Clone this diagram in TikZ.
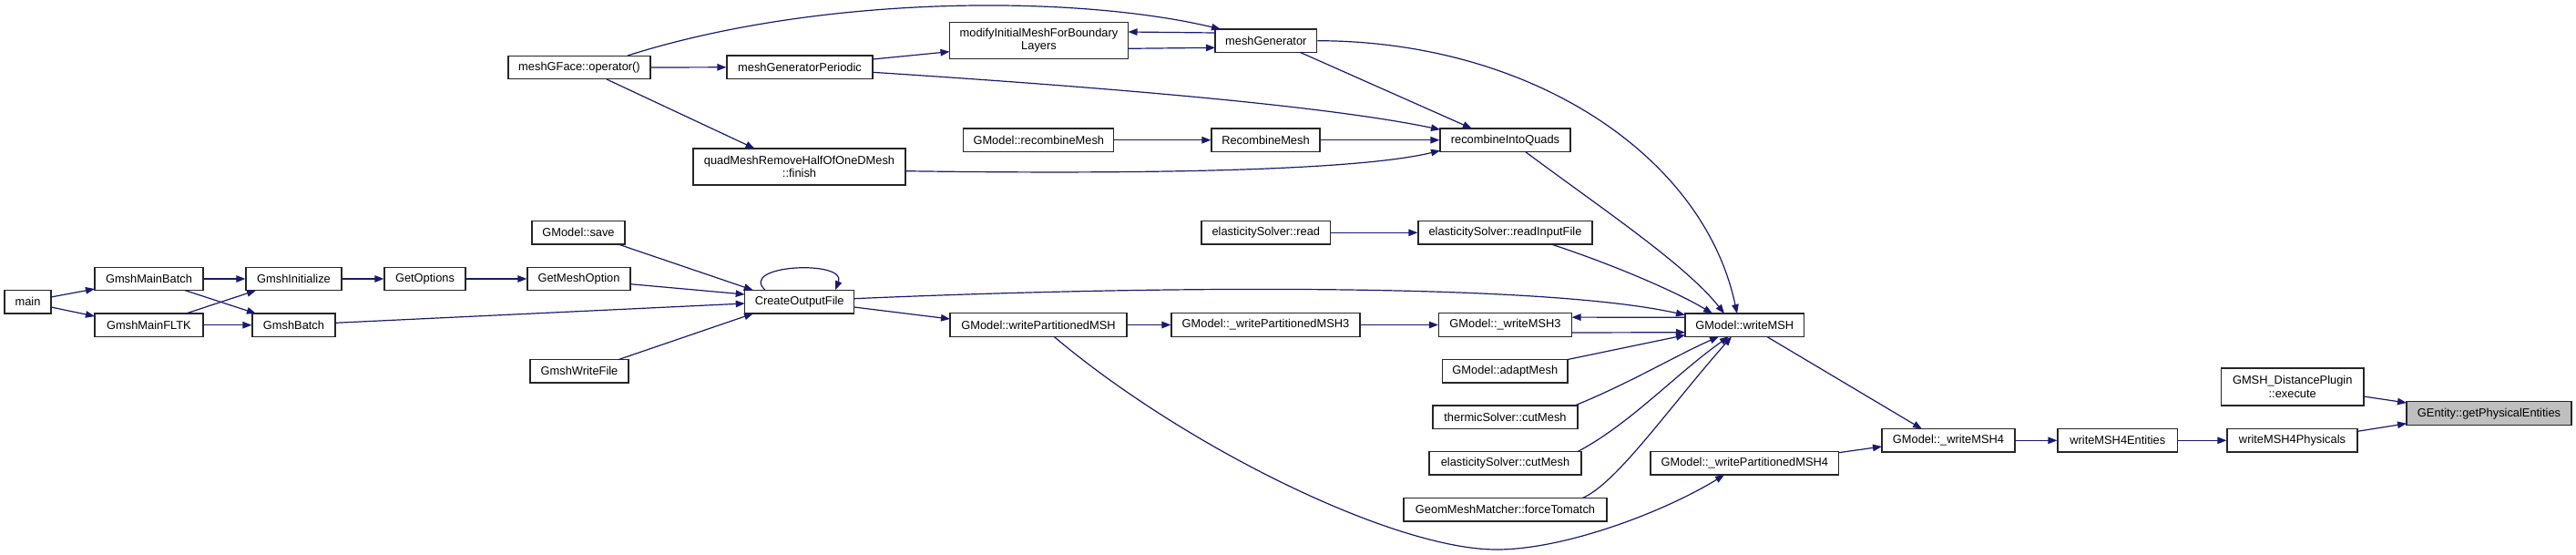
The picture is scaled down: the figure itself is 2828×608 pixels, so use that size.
\documentclass[tikz,border=0pt]{standalone}
\usepackage{fontspec}
\setmainfont{Liberation Sans}
\usetikzlibrary{arrows.meta}
\definecolor{edgeblue}{HTML}{191970}
\definecolor{hlgrey}{HTML}{BFBFBF}
\begin{document}
\begin{tikzpicture}[x=1pt,y=-1pt,
  box/.style={draw=black!85, line width=1.2pt, fill=white, inner sep=0pt,
    minimum height=25.5pt, align=center, font=\fontsize{12.85}{14.5}\selectfont},
  tall/.style={box, minimum height=40pt},
  hl/.style={box, fill=hlgrey},
  edge/.style={draw=edgeblue, line width=1.2pt, -{Triangle[length=10pt,width=7.5pt]}}]
\useasboundingbox[fill=white] (0,0) rectangle (2828,608);

% nodes
\node[box, minimum width=51pt]    (main)  at (30.5,331.3)  {main};
\node[box, minimum width=119pt]   (gmb)   at (163.5,306)   {GmshMainBatch};
\node[box, minimum width=119pt]   (gmf)   at (163.5,356.7) {GmshMainFLTK};
\node[box, minimum width=105pt]   (gini)  at (322.5,306)   {GmshInitialize};
\node[box, minimum width=91pt]    (gbat)  at (322.5,356.7) {GmshBatch};
\node[box, minimum width=89pt]    (gopt)  at (466.5,306)   {GetOptions};
\node[box, minimum width=113pt]   (gmo)   at (635.5,306)   {GetMeshOption};
\node[box, minimum width=102pt]   (gsave) at (635,255.3)   {GModel::save};
\node[box, minimum width=108pt]   (gwf)   at (636,407.3)   {GmshWriteFile};
\node[box, minimum width=156pt]   (mgo)   at (636,74)      {meshGFace::operator()};
\node[box, minimum width=120pt]   (cof)   at (877.7,331.2) {CreateOutputFile};
\node[box, minimum width=160pt]   (mgp)   at (878,73.8)    {meshGeneratorPeriodic};
\node[tall, minimum width=233pt]  (qmr)   at (877.5,183)   {quadMeshRemoveHalfOfOneDMesh\\::finish};
\node[tall, minimum width=196pt]  (mim)   at (1140.5,44.3) {modifyInitialMeshForBoundary\\Layers};
\node[box, minimum width=165pt]   (grm)   at (1140.3,153.7){GModel::recombineMesh};
\node[box, minimum width=194pt]   (wpm)   at (1140,356.5)  {GModel::writePartitionedMSH};
\node[box, minimum width=111.7pt] (mg)    at (1389.8,44.7) {meshGenerator};
\node[box, minimum width=119pt]   (rm)    at (1389.5,153.7){RecombineMesh};
\node[box, minimum width=141.6pt] (esr)   at (1389.8,255.3){elasticitySolver::read};
\node[box, minimum width=207pt]   (wpm3)  at (1389.5,356.5){GModel::\_writePartitionedMSH3};
\node[box, minimum width=143pt]   (riq)   at (1652.5,153.7){recombineIntoQuads};
\node[box, minimum width=191pt]   (esrif) at (1652.5,255.3){elasticitySolver::readInputFile};
\node[box, minimum width=146pt]   (wm3)   at (1652.5,356.5){GModel::\_writeMSH3};
\node[box, minimum width=137.4pt] (gam)   at (1652.3,407.3){GModel::adaptMesh};
\node[box, minimum width=159pt]   (tsc)   at (1652.5,457.8){thermicSolver::cutMesh};
\node[box, minimum width=167pt]   (esc)   at (1652.5,508.3){elasticitySolver::cutMesh};
\node[box, minimum width=223pt]   (gmm)   at (1652.5,559.3){GeomMeshMatcher::forceTomatch};
\node[box, minimum width=130.7pt] (wmsh)  at (1915.3,356.7){GModel::writeMSH};
\node[box, minimum width=206.5pt] (wpm4)  at (1915.3,508.3){GModel::\_writePartitionedMSH4};
\node[box, minimum width=146pt]   (wm4)   at (2139,483.3)  {GModel::\_writeMSH4};
\node[box, minimum width=131.6pt] (w4e)   at (2324.8,483.3){writeMSH4Entities};
\node[box, minimum width=143pt]   (w4p)   at (2516.5,483.3){writeMSH4Physicals};
\node[tall, minimum width=156.6pt, minimum height=41pt] (gdp) at (2516.7,424.5) {GMSH\_DistancePlugin\\::execute};
\node[hl, minimum width=181pt, minimum height=26pt] (gent) at (2732.5,453.7) {GEntity::getPhysicalEntities};

% left part
\draw[edge] ([shift={(25.5,-5.3)}]main.center) -- ([shift={(-59.5,11)}]gmb.center);
\draw[edge] ([shift={(25.5,5.7)}]main.center) -- ([shift={(-59.5,-9.7)}]gmf.center);
\draw[edge] (gmb.east) -- (gini.west);
\draw[edge] ([shift={(39.9,12.7)}]gmb.center) -- ([shift={(-41.5,-12.7)}]gbat.center);
\draw[edge] ([shift={(40.8,-12.7)}]gmf.center) -- ([shift={(-41.5,12.7)}]gini.center);
\draw[edge] (gmf.east) -- (gbat.west);
\draw[edge] (gini.east) -- (gopt.west);
\draw[edge] (gopt.east) -- (gmo.west);
\draw[edge] ([shift={(56.5,5.7)}]gmo.center) -- ([shift={(-60,-8.2)}]cof.center);
\draw[edge] ([shift={(45.5,-2.4)}]gbat.center) -- ([shift={(-60,1.8)}]cof.center);
\draw[edge] ([shift={(43.6,12.7)}]gsave.center) -- ([shift={(-51,-12.9)}]cof.center);
\draw[edge] ([shift={(42.6,-12.6)}]gwf.center) -- ([shift={(-50.7,12.8)}]cof.center);
\draw[edge] ([shift={(-37.7,-12.9)}]cof.center) .. controls (810,290) and (930,285) .. ([shift={(39.3,-12.9)}]cof.center);

% from CreateOutputFile
\draw[edge] ([shift={(60,5.8)}]cof.center) -- ([shift={(-97,-6.5)}]wpm.center);
\draw[edge] ([shift={(60,-3.5)}]cof.center) .. controls (1300,312) and (1700,312) .. ([shift={(-65.3,-11)}]wmsh.center);
\draw[edge] (wpm.east) -- (wpm3.west);
\draw[edge] ([shift={(17,12.8)}]wpm.center) .. controls (1300,490) and (1530,603) .. (1643,603)
   .. controls (1720,603) and (1830,560) .. ([shift={(-22.3,12.7)}]wpm4.center);
\draw[edge] (wpm3.east) -- (wm3.west);
\draw[edge] ([shift={(73,8.5)}]wm3.center) -- ([shift={(-65.3,8)}]wmsh.center);
\draw[edge] ([shift={(-65.3,-8.4)}]wmsh.center) -- ([shift={(73,-8.4)}]wm3.center);
\draw[edge] ([shift={(67.7,-12.6)}]gam.center) -- ([shift={(-65.3,11)}]wmsh.center);
\draw[edge] ([shift={(77.5,-13.3)}]tsc.center) .. controls (1790,420) and (1840,390) .. ([shift={(-28.3,12.6)}]wmsh.center);
\draw[edge] ([shift={(79.2,-12.6)}]esc.center) .. controls (1790,465) and (1840,410) .. ([shift={(-17.3,12.6)}]wmsh.center);
\draw[edge] ([shift={(84.5,-12.6)}]gmm.center) .. controls (1775,530) and (1830,450) .. ([shift={(-14.3,12.6)}]wmsh.center);
\draw[edge] ([shift={(50.5,12.7)}]esrif.center) .. controls (1770,290) and (1840,320) .. ([shift={(-35.3,-12.7)}]wmsh.center);
\draw[edge] ([shift={(22,12.8)}]riq.center) .. controls (1760,230) and (1850,290) .. ([shift={(-22.3,-12.7)}]wmsh.center);
\draw[edge] (mg.east) .. controls (1680,45) and (1870,170) .. ([shift={(-8.3,-12.7)}]wmsh.center);
\draw[edge] (esr.east) -- (esrif.west);

% recombine / mesh generator part
\draw[edge] (grm.east) -- (rm.west);
\draw[edge] (rm.east) -- (riq.west);
\draw[edge] ([shift={(37.2,12.6)}]mg.center) -- ([shift={(-36.7,-12.7)}]riq.center);
\draw[edge] ([shift={(80,5.5)}]mgp.center) .. controls (1200,95) and (1450,115) .. ([shift={(-71.5,-11.5)}]riq.center);
\draw[edge] ([shift={(116.8,4.7)}]qmr.center) .. controls (1300,192) and (1500,185) .. ([shift={(-71.5,11.5)}]riq.center);
\draw[edge] (mgo.east) -- (mgp.west);
\draw[edge] ([shift={(53,-13)}]mgo.center) .. controls (900,-6) and (1180,-6) .. ([shift={(-49.8,-12.7)}]mg.center);
\draw[edge] ([shift={(30,13)}]mgo.center) -- ([shift={(-49,-20)}]qmr.center);
\draw[edge] ([shift={(80,-8.8)}]mgp.center) -- ([shift={(-98,12.4)}]mim.center);
\draw[edge] ([shift={(98,9)}]mim.center) -- ([shift={(-55.8,7.6)}]mg.center);
\draw[edge] ([shift={(-55.8,-8.7)}]mg.center) -- ([shift={(98,-9.3)}]mim.center);

% right part
\draw[edge] ([shift={(24.2,12.6)}]wmsh.center) -- ([shift={(-29,-12.6)}]wm4.center);
\draw[edge] ([shift={(103.2,-11.6)}]wpm4.center) -- ([shift={(-73,6.7)}]wm4.center);
\draw[edge] (wm4.east) -- (w4e.west);
\draw[edge] (w4e.east) -- (w4p.west);
\draw[edge] ([shift={(71.5,-10)}]w4p.center) -- ([shift={(-90.5,11)}]gent.center);
\draw[edge] ([shift={(78.3,10.5)}]gdp.center) -- ([shift={(-90.5,-11.7)}]gent.center);
\end{tikzpicture}
\end{document}
